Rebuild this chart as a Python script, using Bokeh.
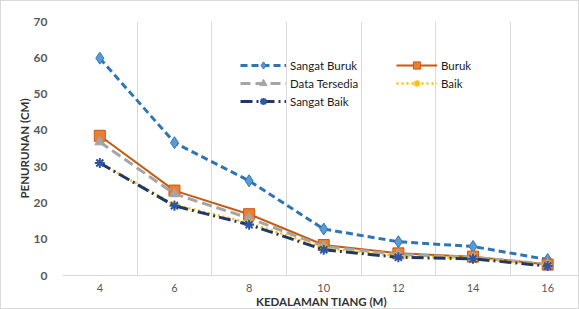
from bokeh.plotting import figure
from bokeh.models import Legend, LegendItem, FixedTicker, Range1d
from bokeh.embed import file_html
from bokeh.resources import INLINE

depth = [4, 6, 8, 10, 12, 14, 16]
sangat_buruk = [59.9, 36.6, 26.1, 12.8, 9.3, 8.0, 4.4]
buruk = [38.5, 23.4, 16.9, 8.4, 6.1, 5.2, 3.0]
data_tersedia = [36.8, 22.5, 15.8, 8.0, 5.8, 5.0, 3.1]
baik = [31.0, 19.5, 14.5, 7.6, 5.3, 4.8, 2.8]
sangat_baik = [31.0, 19.2, 14.0, 7.1, 5.0, 4.6, 2.6]
y_ticks = [0, 10, 20, 30, 40, 50, 60, 70]
grid_x = [3, 5, 7, 9, 11, 13, 15]

FONT = "Lato"

p = figure(width=579, height=309, output_backend="svg", toolbar_location=None,
           x_range=Range1d(3.0, 16.88), y_range=Range1d(0, 70),
           min_border_left=61, min_border_right=0, min_border_top=20, min_border_bottom=34)
p.outline_line_color = None
p.styles = {"border": "1px solid #d9d9d9", "box-sizing": "border-box"}

p.xaxis.ticker = FixedTicker(ticks=depth)
p.yaxis.ticker = FixedTicker(ticks=y_ticks)
p.xgrid.ticker = FixedTicker(ticks=grid_x)
p.xgrid.grid_line_color = "#d9d9d9"
p.ygrid.grid_line_color = None

p.xaxis.axis_line_color = "#d9d9d9"
p.xaxis.major_tick_line_color = None
p.xaxis.minor_tick_line_color = None
p.yaxis.axis_line_color = None
p.yaxis.major_tick_line_color = None
p.yaxis.minor_tick_line_color = None

p.xaxis.major_label_text_font = FONT
p.xaxis.major_label_text_font_size = "11px"
p.xaxis.major_label_text_color = "#595959"
p.xaxis.major_label_standoff = 2
p.yaxis.major_label_text_font = FONT
p.yaxis.major_label_text_font_size = "12px"
p.yaxis.major_label_text_font_style = "bold"
p.yaxis.major_label_text_color = "#595959"
p.yaxis.major_label_standoff = 9

p.xaxis.axis_label = "KEDALAMAN TIANG (M)"
p.yaxis.axis_label = "PENURUNAN (CM)"
for ax in (p.xaxis, p.yaxis):
    ax.axis_label_text_font = FONT
    ax.axis_label_text_font_size = "11.5px"
    ax.axis_label_text_font_style = "bold"
    ax.axis_label_text_color = "#333333"
p.xaxis.axis_label_standoff = 0
p.yaxis.axis_label_standoff = 0

# series
l1 = p.line(depth, sangat_buruk, line_color="#2E75B6", line_width=3, line_dash="7 4")
m1 = p.scatter(depth, sangat_buruk, marker="diamond", size=12, fill_color="#5B9BD5", line_color="#2E75B6")

l2 = p.line(depth, buruk, line_color="#C55A11", line_width=2)
m2 = p.scatter(depth, buruk, marker="square", size=11, fill_color="#ED7D31", line_color="#C55A11")

l3 = p.line(depth, data_tersedia, line_color="#A5A5A5", line_width=3, line_dash="10 5")
m3 = p.scatter(depth, data_tersedia, marker="triangle", size=10, fill_color="#A5A5A5", line_color="#A5A5A5")

l4 = p.line(depth, baik, line_color="#FFC000", line_width=2.5, line_dash="2 3")
m4 = p.scatter(depth, baik, marker="asterisk", size=9, line_color="#FFC000", line_width=1.5)

l5 = p.line(depth, sangat_baik, line_color="#203864", line_width=3, line_dash="12 4 2 4")
m5 = p.scatter(depth, sangat_baik, marker="asterisk", size=10, line_color="#2F55A4", line_width=2)


def make_legend(items, loc, gw):
    lg = Legend(items=items, location=loc, orientation="vertical",
                border_line_color=None, background_fill_alpha=0,
                padding=0, margin=0, spacing=0,
                glyph_width=gw, glyph_height=18, label_height=18,
                label_standoff=4, label_text_font=FONT,
                label_text_font_size="11.5px", label_text_color="#1a1a1a")
    p.add_layout(lg, "center")
    return lg

make_legend([LegendItem(label="Sangat Buruk", renderers=[l1, m1]),
             LegendItem(label="Data Tersedia", renderers=[l3, m3]),
             LegendItem(label="Sangat Baik", renderers=[l5, m5])], (178, 165), 46)
make_legend([LegendItem(label="Buruk", renderers=[l2, m2]),
             LegendItem(label="Baik", renderers=[l4, m4])], (334, 183), 41)

open("out.html", "w").write(file_html(p, INLINE))
